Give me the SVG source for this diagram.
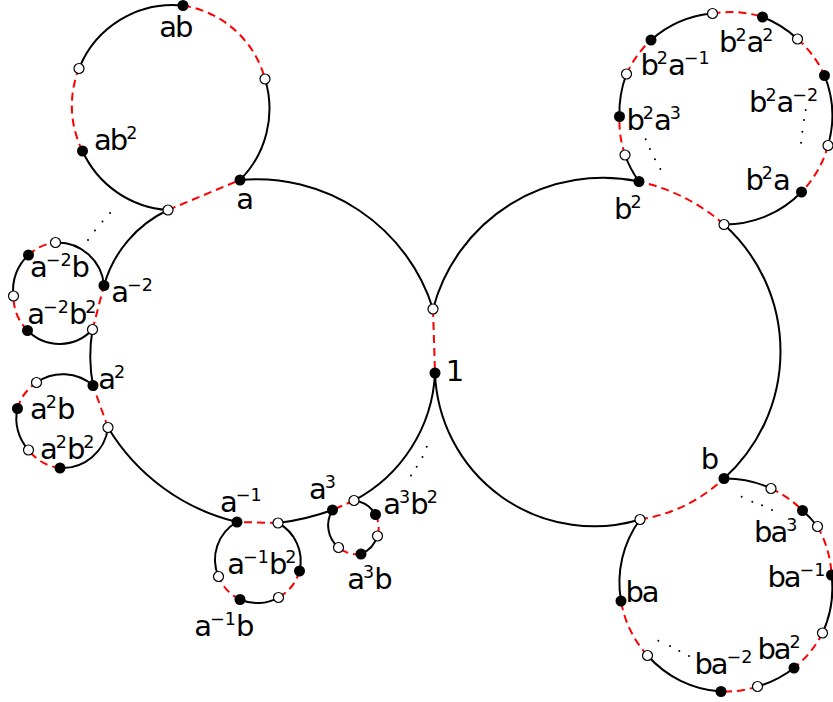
<svg xmlns="http://www.w3.org/2000/svg" width="833" height="702" viewBox="0 0 833 702">
<style>
.s{fill:none;stroke:#000;stroke-width:2}
.d{fill:none;stroke:#f00;stroke-width:2;stroke-dasharray:8 5}
.f{fill:#000}
.o{fill:#fff;stroke:#000;stroke-width:1.2}
.dot{fill:#000}
text{font-family:"DejaVu Sans",sans-serif;font-size:29px;letter-spacing:-2px;fill:#000}
.sup{font-size:17.5px;letter-spacing:0}
</style>
<rect width="833" height="702" fill="#fff"/>
<g id="connectors">
<path class="s" d="M240,180 A185,185 0 0 1 433,309"/>
<path class="s" d="M639,181.5 A176,176 0 0 0 433,309"/>
<path class="s" d="M435,373 A152,152 0 0 1 354,500.5"/>
<path class="s" d="M435,373 A159,159 0 0 0 640,519.5"/>
<path class="s" d="M724,478.5 A171,171 0 0 0 724,224.5"/>
<path class="s" d="M332.5,510 A250,250 0 0 1 278,523"/>
<path class="s" d="M237,522 A207,207 0 0 1 108,427.5"/>
<path class="s" d="M93,385.5 A160,160 0 0 1 92.5,329.5"/>
<path class="s" d="M104,285.5 A119,119 0 0 1 168,210"/>
<path class="d" d="M433,309 L435,373"/>
<path class="d" d="M640,519.5 A158,158 0 0 0 724,478.5"/>
<path class="d" d="M724,224.5 A191,191 0 0 0 639,181.5"/>
<path class="d" d="M354,500.5 L332.5,510"/>
<path class="d" d="M278,523 L237,522"/>
<path class="d" d="M108,427.5 L93,385.5"/>
<path class="d" d="M92.5,329.5 L104,285.5"/>
<path class="d" d="M168,210 L240,180"/>
<path class="d" d="M183,5.5 A101,101 0 0 1 265,79"/>
<path class="s" d="M265,79 A101,101 0 0 1 240,180"/>
<path class="s" d="M168,210 A101,101 0 0 1 82.5,151"/>
<path class="d" d="M82.5,151 A101,101 0 0 1 79,68.5"/>
<path class="s" d="M79,68.5 A101,101 0 0 1 183,5.5"/>
<path class="s" d="M55.5,242.5 A47,47 0 0 1 104,285.5"/>
<path class="s" d="M92.5,329.5 A45,45 0 0 1 27.5,330.5"/>
<path class="d" d="M27.5,330.5 A47,47 0 0 1 13.5,296"/>
<path class="s" d="M13.5,296 A47,47 0 0 1 28.5,255"/>
<path class="d" d="M28.5,255 A47,47 0 0 1 55.5,242.5"/>
<path class="s" d="M108,427.5 A46,46 0 0 1 60,468"/>
<path class="d" d="M60,468 A46,46 0 0 1 28.5,450"/>
<path class="s" d="M28.5,450 A46,46 0 0 1 17.5,408.5"/>
<path class="d" d="M17.5,408.5 A46,46 0 0 1 36.5,382.5"/>
<path class="s" d="M36.5,382.5 A46,46 0 0 1 93,385.5"/>
<path class="s" d="M278,523 A43,43 0 0 1 299.5,571"/>
<path class="d" d="M299.5,571 A43,43 0 0 1 278.5,597.5"/>
<path class="s" d="M278.5,597.5 A43,43 0 0 1 240,599.5"/>
<path class="d" d="M240,599.5 A43,43 0 0 1 218.5,576.5"/>
<path class="s" d="M218.5,576.5 A43,43 0 0 1 237,522"/>
<path class="s" d="M354,500.5 A29,29 0 0 1 375.5,514.5"/>
<path class="d" d="M375.5,514.5 A29,29 0 0 1 377.5,536"/>
<path class="s" d="M377.5,536 A29,29 0 0 1 361,554"/>
<path class="d" d="M361,554 A29,29 0 0 1 338.5,547.5"/>
<path class="s" d="M338.5,547.5 A29,29 0 0 1 332.5,510"/>
<path class="s" d="M639,181.5 A107,107 0 0 1 625,155"/>
<path class="d" d="M625,155 A107,107 0 0 1 619.5,116.5"/>
<path class="s" d="M619.5,116.5 A107,107 0 0 1 626.5,74"/>
<path class="d" d="M626.5,74 A107,107 0 0 1 651,40"/>
<path class="s" d="M651,40 A107,107 0 0 1 712.5,13.5"/>
<path class="d" d="M712.5,13.5 A107,107 0 0 1 762.5,17"/>
<path class="s" d="M762.5,17 A107,107 0 0 1 797.5,39"/>
<path class="d" d="M797.5,39 A107,107 0 0 1 824.5,75.5"/>
<path class="s" d="M824.5,75.5 A107,107 0 0 1 828,145.5"/>
<path class="d" d="M828,145.5 A107,107 0 0 1 801.5,192"/>
<path class="s" d="M801.5,192 A107,107 0 0 1 724,224.5"/>
<path class="s" d="M724,478.5 A107,107 0 0 1 771,488.5"/>
<path class="d" d="M771,488.5 A107,107 0 0 1 802.5,510.5"/>
<path class="s" d="M802.5,510.5 A107,107 0 0 1 817.5,526.5"/>
<path class="d" d="M817.5,526.5 A107,107 0 0 1 831.5,575"/>
<path class="s" d="M831.5,575 A107,107 0 0 1 822.5,633"/>
<path class="d" d="M822.5,633 A107,107 0 0 1 794,668"/>
<path class="s" d="M794,668 A107,107 0 0 1 757.5,686.5"/>
<path class="d" d="M757.5,686.5 A107,107 0 0 1 721,691.5"/>
<path class="s" d="M721,691.5 A107,107 0 0 1 647.5,655.5"/>
<path class="d" d="M647.5,655.5 A107,107 0 0 1 621,601"/>
<path class="s" d="M621,601 A107,107 0 0 1 640,519.5"/>
</g>
<g id="ellipses">
<circle class="dot" cx="110" cy="213" r="1"/><circle class="dot" cx="102.5" cy="221.5" r="1"/><circle class="dot" cx="95" cy="230.5" r="1"/><circle class="dot" cx="88" cy="240" r="1"/>
<circle class="dot" cx="426.7" cy="446.7" r="1"/><circle class="dot" cx="422.5" cy="457" r="1"/><circle class="dot" cx="416.7" cy="466.7" r="1"/><circle class="dot" cx="411" cy="475.5" r="1"/>
<circle class="dot" cx="645.7" cy="139.3" r="1"/><circle class="dot" cx="650" cy="149" r="1"/><circle class="dot" cx="655" cy="159.3" r="1"/><circle class="dot" cx="660.3" cy="169" r="1"/>
<circle class="dot" cx="805.7" cy="110" r="1"/><circle class="dot" cx="804" cy="120" r="1"/><circle class="dot" cx="802.3" cy="131.7" r="1"/><circle class="dot" cx="801" cy="142.7" r="1"/>
<circle class="dot" cx="741.7" cy="496.7" r="1"/><circle class="dot" cx="752.3" cy="501.7" r="1"/><circle class="dot" cx="762" cy="505.3" r="1"/><circle class="dot" cx="772" cy="510" r="1"/>
<circle class="dot" cx="658.3" cy="640.7" r="1"/><circle class="dot" cx="670" cy="646" r="1"/><circle class="dot" cx="679.3" cy="651" r="1"/><circle class="dot" cx="689" cy="656" r="1"/>
</g>
<g id="o-1"><circle class="o" cx="433" cy="309" r="5"/></g>
<g id="o-2"><circle class="o" cx="168" cy="210" r="5"/></g>
<g id="o-3"><circle class="o" cx="92.5" cy="329.5" r="5"/></g>
<g id="o-4"><circle class="o" cx="108" cy="427.5" r="5"/></g>
<g id="o-5"><circle class="o" cx="278" cy="523" r="5"/></g>
<g id="o-6"><circle class="o" cx="354" cy="500.5" r="5"/></g>
<g id="o-ab1"><circle class="o" cx="265" cy="79" r="5"/></g>
<g id="o-ab2"><circle class="o" cx="79" cy="68.5" r="5"/></g>
<g id="o-c1"><circle class="o" cx="55.5" cy="242.5" r="5"/></g>
<g id="o-c2"><circle class="o" cx="13.5" cy="296" r="5"/></g>
<g id="o-d1"><circle class="o" cx="36.5" cy="382.5" r="5"/></g>
<g id="o-d2"><circle class="o" cx="28.5" cy="450" r="5"/></g>
<g id="o-e1"><circle class="o" cx="218.5" cy="576.5" r="5"/></g>
<g id="o-e2"><circle class="o" cx="278.5" cy="597.5" r="5"/></g>
<g id="o-f1"><circle class="o" cx="338.5" cy="547.5" r="5"/></g>
<g id="o-f2"><circle class="o" cx="377.5" cy="536" r="5"/></g>
<g id="o-g1"><circle class="o" cx="724" cy="224.5" r="5"/></g>
<g id="o-g2"><circle class="o" cx="640" cy="519.5" r="5"/></g>
<g id="o-h1"><circle class="o" cx="625" cy="155" r="5"/></g>
<g id="o-h2"><circle class="o" cx="626.5" cy="74" r="5"/></g>
<g id="o-h3"><circle class="o" cx="712.5" cy="13.5" r="5"/></g>
<g id="o-h4"><circle class="o" cx="797.5" cy="39" r="5"/></g>
<g id="o-h5"><circle class="o" cx="828" cy="145.5" r="5"/></g>
<g id="o-i1"><circle class="o" cx="771" cy="488.5" r="5"/></g>
<g id="o-i2"><circle class="o" cx="817.5" cy="526.5" r="5"/></g>
<g id="o-i3"><circle class="o" cx="822.5" cy="633" r="5"/></g>
<g id="o-i4"><circle class="o" cx="757.5" cy="686.5" r="5"/></g>
<g id="o-i5"><circle class="o" cx="647.5" cy="655.5" r="5"/></g>
<g id="n-1"><circle class="f" cx="435" cy="373" r="5.5"/><text x="445.8" y="380.5">1</text></g>
<g id="n-a"><circle class="f" cx="240" cy="180" r="5.5"/><text x="236.3" y="209">a</text></g>
<g id="n-ab"><circle class="f" cx="183" cy="5.5" r="5.5"/><text x="159.3" y="36.5">ab</text></g>
<g id="n-ab2"><circle class="f" cx="82.5" cy="151" r="5.5"/><text x="94" y="150">ab<tspan class="sup" dy="-11">2</tspan></text></g>
<g id="n-am2"><circle class="f" cx="104" cy="285.5" r="5.5"/><text x="111.3" y="301.5">a<tspan class="sup" dy="-11">−2</tspan></text></g>
<g id="n-am2b"><circle class="f" cx="28.5" cy="255" r="5.5"/><text x="30" y="277">a<tspan class="sup" dy="-11">−2</tspan><tspan dy="11">b</tspan></text></g>
<g id="n-am2b2"><circle class="f" cx="27.5" cy="330.5" r="5.5"/><text x="27.3" y="324">a<tspan class="sup" dy="-11">−2</tspan><tspan dy="11">b</tspan><tspan class="sup" dy="-11">2</tspan></text></g>
<g id="n-a2"><circle class="f" cx="93" cy="385.5" r="5.5"/><text x="98.3" y="388.5">a<tspan class="sup" dy="-11">2</tspan></text></g>
<g id="n-a2b"><circle class="f" cx="17.5" cy="408.5" r="5.5"/><text x="30" y="418.5">a<tspan class="sup" dy="-11">2</tspan><tspan dy="11">b</tspan></text></g>
<g id="n-a2b2"><circle class="f" cx="60" cy="468" r="5.5"/><text x="40" y="459">a<tspan class="sup" dy="-11">2</tspan><tspan dy="11">b</tspan><tspan class="sup" dy="-11">2</tspan></text></g>
<g id="n-am1"><circle class="f" cx="237" cy="522" r="5.5"/><text x="220" y="511.5">a<tspan class="sup" dy="-11">−1</tspan></text></g>
<g id="n-am1b"><circle class="f" cx="240" cy="599.5" r="5.5"/><text x="194.3" y="636">a<tspan class="sup" dy="-11">−1</tspan><tspan dy="11">b</tspan></text></g>
<g id="n-am1b2"><circle class="f" cx="299.5" cy="571" r="5.5"/><text x="227.3" y="574">a<tspan class="sup" dy="-11">−1</tspan><tspan dy="11">b</tspan><tspan class="sup" dy="-11">2</tspan></text></g>
<g id="n-a3"><circle class="f" cx="332.5" cy="510" r="5.5"/><text x="309" y="498.5">a<tspan class="sup" dy="-11">3</tspan></text></g>
<g id="n-a3b"><circle class="f" cx="361" cy="554" r="5.5"/><text x="347.3" y="588.5">a<tspan class="sup" dy="-11">3</tspan><tspan dy="11">b</tspan></text></g>
<g id="n-a3b2"><circle class="f" cx="375.5" cy="514.5" r="5.5"/><text x="383.3" y="513.5">a<tspan class="sup" dy="-11">3</tspan><tspan dy="11">b</tspan><tspan class="sup" dy="-11">2</tspan></text></g>
<g id="n-b2"><circle class="f" cx="639" cy="181.5" r="5.5"/><text x="614" y="218.5">b<tspan class="sup" dy="-11">2</tspan></text></g>
<g id="n-b2a3"><circle class="f" cx="619.5" cy="116.5" r="5.5"/><text x="626.4" y="130">b<tspan class="sup" dy="-11">2</tspan><tspan dy="11">a</tspan><tspan class="sup" dy="-11">3</tspan></text></g>
<g id="n-b2am1"><circle class="f" cx="651" cy="40" r="5.5"/><text x="640.4" y="75">b<tspan class="sup" dy="-11">2</tspan><tspan dy="11">a</tspan><tspan class="sup" dy="-11">−1</tspan></text></g>
<g id="n-b2a2"><circle class="f" cx="762.5" cy="17" r="5.5"/><text x="719" y="51.5">b<tspan class="sup" dy="-11">2</tspan><tspan dy="11">a</tspan><tspan class="sup" dy="-11">2</tspan></text></g>
<g id="n-b2am2"><circle class="f" cx="824.5" cy="75.5" r="5.5"/><text x="749" y="111.5">b<tspan class="sup" dy="-11">2</tspan><tspan dy="11">a</tspan><tspan class="sup" dy="-11">−2</tspan></text></g>
<g id="n-b2a"><circle class="f" cx="801.5" cy="192" r="5.5"/><text x="745.4" y="190">b<tspan class="sup" dy="-11">2</tspan><tspan dy="11">a</tspan></text></g>
<g id="n-b"><circle class="f" cx="724" cy="478.5" r="5.5"/><text x="700.7" y="469">b</text></g>
<g id="n-ba3"><circle class="f" cx="802.5" cy="510.5" r="5.5"/><text x="754" y="541.5">ba<tspan class="sup" dy="-11">3</tspan></text></g>
<g id="n-bam1"><circle class="f" cx="831.5" cy="575" r="5.5"/><text x="767.4" y="586.5">ba<tspan class="sup" dy="-11">−1</tspan></text></g>
<g id="n-ba2"><circle class="f" cx="794" cy="668" r="5.5"/><text x="757.4" y="658.5">ba<tspan class="sup" dy="-11">2</tspan></text></g>
<g id="n-bam2"><circle class="f" cx="721" cy="691.5" r="5.5"/><text x="694.4" y="673.5">ba<tspan class="sup" dy="-11">−2</tspan></text></g>
<g id="n-ba"><circle class="f" cx="621" cy="601" r="5.5"/><text x="625.4" y="601.5">ba</text></g>
</svg>
